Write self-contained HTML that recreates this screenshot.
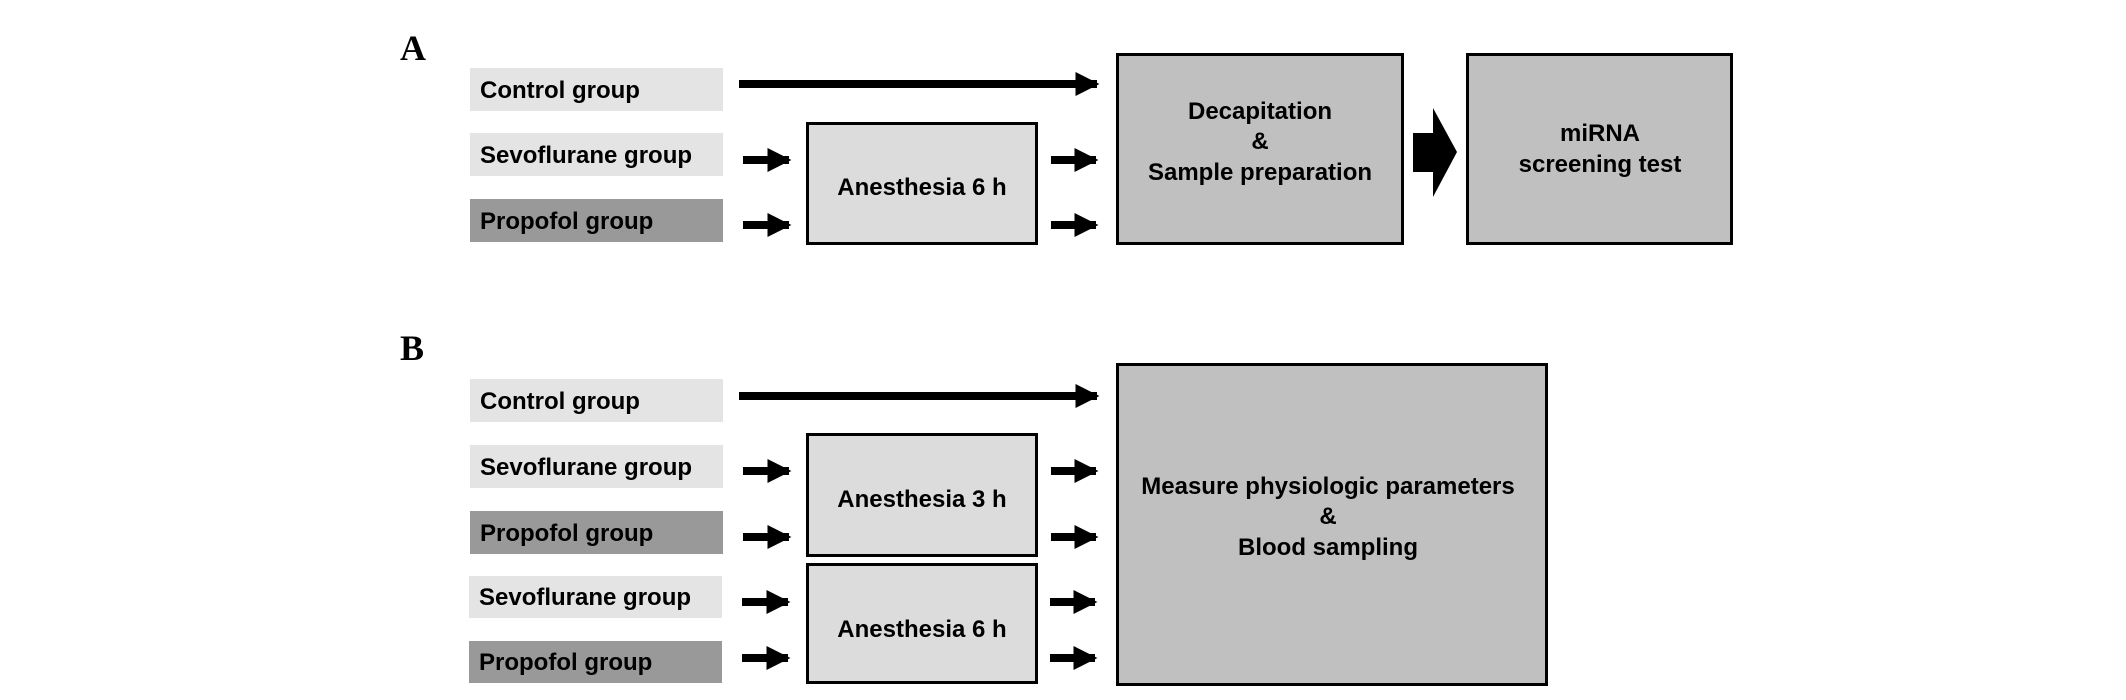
<!DOCTYPE html>
<html><head><meta charset="utf-8"><style>
html,body{margin:0;padding:0;background:#fff}
svg{display:block}
text{font-family:"Liberation Sans",Arial,sans-serif;font-weight:bold;font-size:24px;fill:#000}
.lbl{font-family:"Liberation Serif",serif;font-size:36px}
</style></head><body>
<svg width="2126" height="700" viewBox="0 0 2126 700" xmlns="http://www.w3.org/2000/svg">
<defs>
<marker id="ah" viewBox="0 0 10 10" refX="9" refY="5" markerWidth="3" markerHeight="3" orient="auto" markerUnits="strokeWidth"><path d="M0,0 L10,5 L0,10 z" fill="#000"/></marker>
</defs>
<text class="lbl" x="400" y="60">A</text>
<text class="lbl" x="400" y="360">B</text>

<!-- A groups -->
<rect x="470" y="68" width="253" height="43" fill="#e4e4e4"/>
<text x="480" y="98">Control group</text>
<rect x="470" y="133" width="253" height="43" fill="#e4e4e4"/>
<text x="480" y="163">Sevoflurane group</text>
<rect x="470" y="199" width="253" height="43" fill="#999"/>
<text x="480" y="229">Propofol group</text>

<line x1="739" y1="84" x2="1097" y2="84" stroke="#000" stroke-width="8" marker-end="url(#ah)"/>
<line x1="743" y1="160" x2="789" y2="160" stroke="#000" stroke-width="8" marker-end="url(#ah)"/>
<line x1="743" y1="225" x2="789" y2="225" stroke="#000" stroke-width="8" marker-end="url(#ah)"/>
<rect x="807.5" y="123.5" width="229" height="120" fill="#dcdcdc" stroke="#000" stroke-width="3"/>
<text x="922" y="195" text-anchor="middle">Anesthesia 6 h</text>
<line x1="1051" y1="160" x2="1096" y2="160" stroke="#000" stroke-width="8" marker-end="url(#ah)"/>
<line x1="1051" y1="225" x2="1096" y2="225" stroke="#000" stroke-width="8" marker-end="url(#ah)"/>

<rect x="1117.5" y="54.5" width="285" height="189" fill="#c0c0c0" stroke="#000" stroke-width="3"/>
<text x="1260" y="119" text-anchor="middle">Decapitation</text>
<text x="1260" y="149" text-anchor="middle">&amp;</text>
<text x="1260" y="180" text-anchor="middle">Sample preparation</text>
<path d="M1413,133 L1433,133 L1433,108 L1457,152 L1433,197 L1433,172 L1413,172 z" fill="#000"/>
<rect x="1467.5" y="54.5" width="264" height="189" fill="#c0c0c0" stroke="#000" stroke-width="3"/>
<text x="1600" y="141" text-anchor="middle">miRNA</text>
<text x="1600" y="172" text-anchor="middle">screening test</text>

<!-- B groups -->
<rect x="470" y="379" width="253" height="43" fill="#e4e4e4"/>
<text x="480" y="409">Control group</text>
<rect x="470" y="445" width="253" height="43" fill="#e4e4e4"/>
<text x="480" y="475">Sevoflurane group</text>
<rect x="470" y="511" width="253" height="43" fill="#999"/>
<text x="480" y="541">Propofol group</text>
<rect x="469" y="576" width="253" height="42" fill="#e4e4e4"/>
<text x="479" y="605">Sevoflurane group</text>
<rect x="469" y="641" width="253" height="42" fill="#999"/>
<text x="479" y="670">Propofol group</text>

<line x1="739" y1="396" x2="1097" y2="396" stroke="#000" stroke-width="8" marker-end="url(#ah)"/>
<line x1="743" y1="471" x2="789" y2="471" stroke="#000" stroke-width="8" marker-end="url(#ah)"/>
<line x1="743" y1="537" x2="789" y2="537" stroke="#000" stroke-width="8" marker-end="url(#ah)"/>
<line x1="742" y1="602" x2="788" y2="602" stroke="#000" stroke-width="8" marker-end="url(#ah)"/>
<line x1="742" y1="658" x2="788" y2="658" stroke="#000" stroke-width="8" marker-end="url(#ah)"/>

<rect x="807.5" y="434.5" width="229" height="121" fill="#dcdcdc" stroke="#000" stroke-width="3"/>
<text x="922" y="507" text-anchor="middle">Anesthesia 3 h</text>
<rect x="807.5" y="564.5" width="229" height="118" fill="#dcdcdc" stroke="#000" stroke-width="3"/>
<text x="922" y="637" text-anchor="middle">Anesthesia 6 h</text>

<line x1="1051" y1="471" x2="1096" y2="471" stroke="#000" stroke-width="8" marker-end="url(#ah)"/>
<line x1="1051" y1="537" x2="1096" y2="537" stroke="#000" stroke-width="8" marker-end="url(#ah)"/>
<line x1="1050" y1="602" x2="1095" y2="602" stroke="#000" stroke-width="8" marker-end="url(#ah)"/>
<line x1="1050" y1="658" x2="1095" y2="658" stroke="#000" stroke-width="8" marker-end="url(#ah)"/>

<rect x="1117.5" y="364.5" width="429" height="320" fill="#c0c0c0" stroke="#000" stroke-width="3"/>
<text x="1328" y="494" text-anchor="middle">Measure physiologic parameters</text>
<text x="1328" y="524" text-anchor="middle">&amp;</text>
<text x="1328" y="555" text-anchor="middle">Blood sampling</text>
</svg>
</body></html>
